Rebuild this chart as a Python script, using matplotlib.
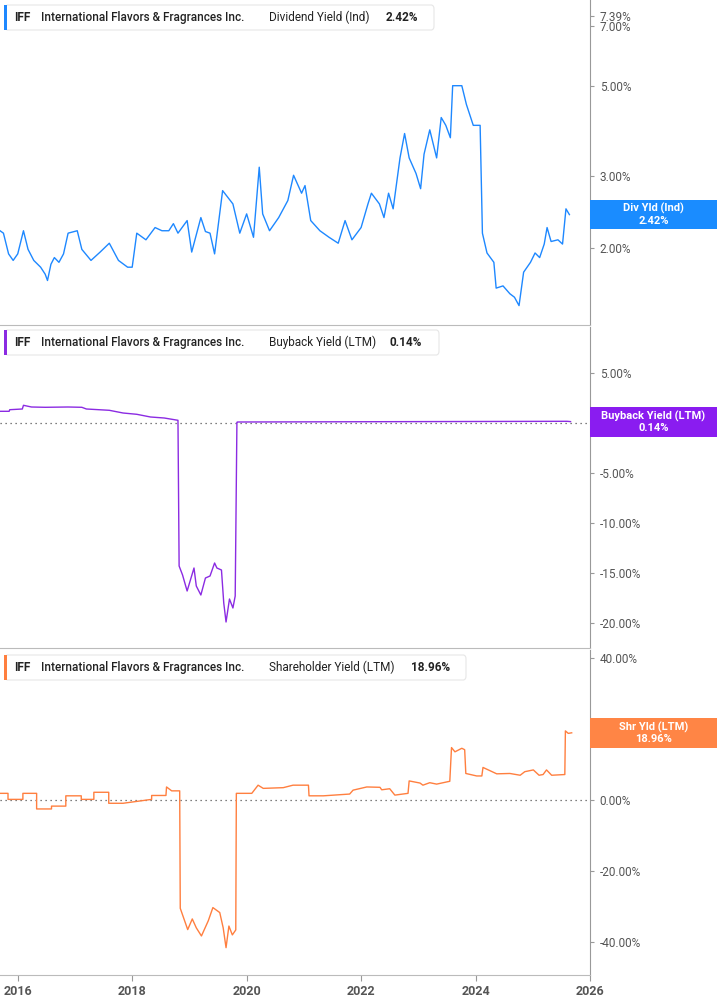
import matplotlib
matplotlib.use("Agg")
import matplotlib.pyplot as plt
from matplotlib.patches import Rectangle, FancyBboxPatch
from matplotlib.ticker import FixedLocator, NullLocator

plt.rcParams["font.family"] = "Roboto"

# ---------------- data ----------------
div_years = [2015.69, 2015.75, 2015.84, 2015.92, 2016.00, 2016.10, 2016.18, 2016.28, 2016.40, 2016.48,
             2016.52, 2016.58, 2016.64, 2016.72, 2016.80, 2016.88, 2017.04, 2017.12, 2017.28, 2017.44,
             2017.60, 2017.76, 2017.92, 2018.00, 2018.08, 2018.24, 2018.40, 2018.52, 2018.64, 2018.72,
             2018.80, 2018.96, 2019.04, 2019.20, 2019.28, 2019.36, 2019.44, 2019.58, 2019.76, 2019.88,
             2020.00, 2020.12, 2020.22, 2020.28, 2020.40, 2020.56, 2020.72, 2020.82, 2020.96, 2021.02,
             2021.12, 2021.28, 2021.44, 2021.60, 2021.72, 2021.84, 2022.00, 2022.12, 2022.18, 2022.32,
             2022.40, 2022.48, 2022.56, 2022.68, 2022.76, 2022.84, 2022.96, 2023.04, 2023.10, 2023.20,
             2023.32, 2023.40, 2023.48, 2023.56, 2023.60, 2023.76, 2023.84, 2023.96, 2024.08, 2024.12,
             2024.20, 2024.32, 2024.36, 2024.48, 2024.60, 2024.68, 2024.76, 2024.84, 2024.96, 2025.04,
             2025.12, 2025.20, 2025.25, 2025.32, 2025.44, 2025.52, 2025.58, 2025.64]
div_yield = [2.21, 2.18, 1.94, 1.87, 1.94, 2.21, 1.99, 1.87, 1.80, 1.73,
             1.67, 1.83, 1.90, 1.85, 1.94, 2.18, 2.21, 1.99, 1.87, 1.96,
             2.06, 1.87, 1.80, 1.80, 2.18, 2.10, 2.25, 2.21, 2.21, 2.30,
             2.18, 2.34, 1.96, 2.38, 2.20, 2.18, 1.94, 2.77, 2.57, 2.18,
             2.43, 2.13, 3.16, 2.43, 2.21, 2.38, 2.62, 3.02, 2.73, 2.85,
             2.34, 2.21, 2.13, 2.06, 2.34, 2.10, 2.25, 2.57, 2.73, 2.57,
             2.38, 2.73, 2.50, 3.33, 3.82, 3.33, 3.05, 2.80, 3.40, 3.90,
             3.33, 4.18, 4.00, 3.73, 5.00, 5.00, 4.50, 4.00, 4.00, 2.18,
             1.95, 1.85, 1.60, 1.62, 1.55, 1.52, 1.45, 1.75, 1.85, 1.95,
             1.90, 2.05, 2.25, 2.08, 2.10, 2.05, 2.50, 2.42]

bb_years = [2015.69, 2015.85, 2015.86, 2016.08, 2016.10, 2016.24, 2016.48, 2016.88, 2017.12, 2017.20,
            2017.60, 2017.84, 2018.08, 2018.32, 2018.56, 2018.80, 2018.82, 2018.88, 2018.96, 2019.08,
            2019.12, 2019.20, 2019.28, 2019.36, 2019.44, 2019.48, 2019.56, 2019.60, 2019.64, 2019.70,
            2019.76, 2019.80, 2019.83, 2019.84, 2025.60, 2025.66]
bb_yield = [1.17, 1.17, 1.33, 1.40, 1.77, 1.60, 1.57, 1.60, 1.57, 1.40,
            1.27, 1.00, 0.87, 0.60, 0.50, 0.27, -14.3, -15.2, -16.8, -14.5,
            -16.3, -17.2, -15.5, -15.3, -14.0, -14.5, -14.7, -18.0, -19.9, -17.6,
            -18.5, -17.3, 0.07, 0.10, 0.17, 0.14]

shr_years = [2015.69, 2015.83, 2015.83, 2016.09, 2016.09, 2016.33, 2016.33, 2016.59, 2016.59, 2016.84,
             2016.84, 2017.11, 2017.11, 2017.33, 2017.33, 2017.59, 2017.59, 2017.84, 2018.34, 2018.34,
             2018.59, 2018.60, 2018.69, 2018.83, 2018.84, 2018.97, 2019.05, 2019.12, 2019.21, 2019.33,
             2019.41, 2019.53, 2019.59, 2019.64, 2019.69, 2019.75, 2019.81, 2019.82, 2020.09, 2020.20,
             2020.29, 2020.64, 2020.81, 2021.08, 2021.09, 2021.34, 2021.80, 2021.86, 2022.10, 2022.33,
             2022.36, 2022.50, 2022.59, 2022.82, 2022.84, 2023.03, 2023.08, 2023.20, 2023.32, 2023.55,
             2023.58, 2023.64, 2023.76, 2023.81, 2023.83, 2024.02, 2024.11, 2024.13, 2024.25, 2024.37,
             2024.60, 2024.78, 2024.86, 2025.01, 2025.11, 2025.18, 2025.24, 2025.33, 2025.56, 2025.57,
             2025.62, 2025.68]
shr_yield = [1.9, 1.9, 0.2, 0.2, 1.9, 1.9, -2.5, -2.5, -1.7, -1.7,
             1.2, 1.2, 0.2, 0.2, 2.2, 2.2, -0.9, -0.9, 0.2, 1.3,
             1.3, 3.7, 2.6, 2.6, -30.5, -36.5, -33.5, -36.0, -38.3, -34.0,
             -30.3, -31.7, -36.0, -41.6, -35.5, -38.0, -36.6, 1.9, 1.9, 4.2,
             3.3, 3.5, 4.2, 4.2, 1.2, 1.2, 1.7, 2.8, 3.7, 3.6,
             2.9, 3.2, 1.4, 1.9, 5.4, 4.8, 4.2, 4.9, 4.5, 5.3,
             14.8, 13.6, 14.6, 14.2, 7.5, 6.8, 6.8, 9.2, 8.3, 7.4,
             7.5, 7.0, 8.0, 8.5, 7.0, 7.2, 8.5, 7.0, 7.2, 19.5,
             18.8, 18.96]

year_ticks = [2016, 2018, 2020, 2022, 2024, 2026]
div_ticks = [2.0, 3.0, 5.0, 7.0, 7.39]
bb_ticks = [5, -5, -10, -15, -20]
shr_ticks = [40, 20, 0, -20, -40]

# ---------------- drawing ----------------
W, H = 717, 1005
fig = plt.figure(figsize=(W / 100, H / 100), dpi=100)
GRAY = "#555555"
XR = 590 / W

def add_panel(top_px, bot_px):
    ax = fig.add_axes([0, 1 - bot_px / H, XR, (bot_px - top_px) / H])
    for s in ("left", "top"):
        ax.spines[s].set_visible(False)
    ax.spines["bottom"].set_color("#bbbbbb")
    ax.spines["right"].set_color("#999999")
    ax.yaxis.tick_right()
    ax.tick_params(axis="y", length=3, color="#999999", labelcolor=GRAY, labelsize=8.5, pad=4)
    ax.set_xlim(2015.69, 2026.0)
    ax.xaxis.set_major_locator(NullLocator())
    return ax

def legend_box(top_px, right_px, color, label, value, vx):
    fig.patches.append(FancyBboxPatch((5 / W, 1 - (top_px + 25) / H), (right_px - 5) / W, 25 / H,
                                      boxstyle="round,pad=0,rounding_size=0.004", transform=fig.transFigure,
                                      facecolor="white", edgecolor="#e6e6e6", lw=0.8, zorder=5))
    fig.patches.append(Rectangle((4 / W, 1 - (top_px + 25) / H), 3 / W, 25 / H, transform=fig.transFigure,
                                 facecolor=color, edgecolor="none", zorder=6))
    yc = 1 - (top_px + 12.5) / H
    fig.text(14 / W, yc, "IFF", fontsize=8.5, fontweight="bold", color="#222222", va="center", zorder=7)
    fig.text(41 / W, yc, "International Flavors & Fragrances Inc.", fontsize=8.5, fontweight="medium",
             color="#222222", va="center", zorder=7)
    fig.text(269 / W, yc, label, fontsize=8.5, color="#222222", va="center", zorder=7)
    fig.text(vx / W, yc, value, fontsize=8.5, fontweight="bold", color="#222222", va="center", zorder=7)

def badge(top_px, bot_px, color, l1, l2):
    fig.patches.append(Rectangle((XR, 1 - bot_px / H), 1 - XR, (bot_px - top_px) / H,
                                 transform=fig.transFigure, facecolor=color, edgecolor="none", zorder=8))
    cx = (590 + 717) / 2 / W
    ym = (top_px + bot_px) / 2
    fig.text(cx, 1 - (ym - 6) / H, l1, fontsize=8, fontweight="bold", color="white", ha="center", va="center", zorder=9)
    fig.text(cx, 1 - (ym + 6) / H, l2, fontsize=8, fontweight="bold", color="white", ha="center", va="center", zorder=9)

def fmt(v):
    return f"{v:.2f}%"

# top panel: dividend yield (log scale)
ax1 = add_panel(0, 325)
ax1.set_yscale("log")
ax1.set_ylim(1.30, 8.1)
ax1.plot(div_years, div_yield, color="#1e88ff", lw=1.0)
ax1.yaxis.set_major_locator(FixedLocator(div_ticks))
ax1.yaxis.set_minor_locator(NullLocator())
ax1.set_yticklabels([fmt(v) for v in div_ticks])
legend_box(5, 434, "#1e88ff", "Dividend Yield (Ind)", "2.42%", 386)
badge(200, 229, "#1a8cff", "Div Yld (Ind)", "2.42%")

# middle panel: buyback yield
ax2 = add_panel(327, 648)
ax2.set_ylim(-22.5, 9.6)
ax2.axhline(0, color="#555555", lw=0.9, ls=(0, (1, 3)))
ax2.plot(bb_years, bb_yield, color="#8b2be2", lw=1.0)
ax2.yaxis.set_major_locator(FixedLocator(bb_ticks))
ax2.set_yticklabels([fmt(v) for v in bb_ticks])
legend_box(330, 439, "#8b2be2", "Buyback Yield (LTM)", "0.14%", 390)
badge(407, 437, "#8a1cf0", "Buyback Yield (LTM)", "0.14%")

# bottom panel: shareholder yield
ax3 = add_panel(650, 975)
ax3.set_ylim(-49.3, 42.3)
ax3.axhline(0, color="#555555", lw=0.9, ls=(0, (1, 3)))
ax3.plot(shr_years, shr_yield, color="#ff7f3f", lw=1.0)
ax3.yaxis.set_major_locator(FixedLocator(shr_ticks))
ax3.set_yticklabels([fmt(v) for v in shr_ticks])
ax3.xaxis.set_major_locator(FixedLocator(year_ticks))
ax3.set_xticklabels([str(y) for y in year_ticks])
ax3.tick_params(axis="x", length=4, color="#999999", labelcolor=GRAY, labelsize=9, pad=3)
for t in ax3.get_xticklabels():
    t.set_fontweight("bold")
legend_box(655, 466, "#ff7f3f", "Shareholder Yield (LTM)", "18.96%", 411)
badge(718, 748, "#ff8545", "Shr Yld (LTM)", "18.96%")

fig.savefig("out.png", dpi=100)
